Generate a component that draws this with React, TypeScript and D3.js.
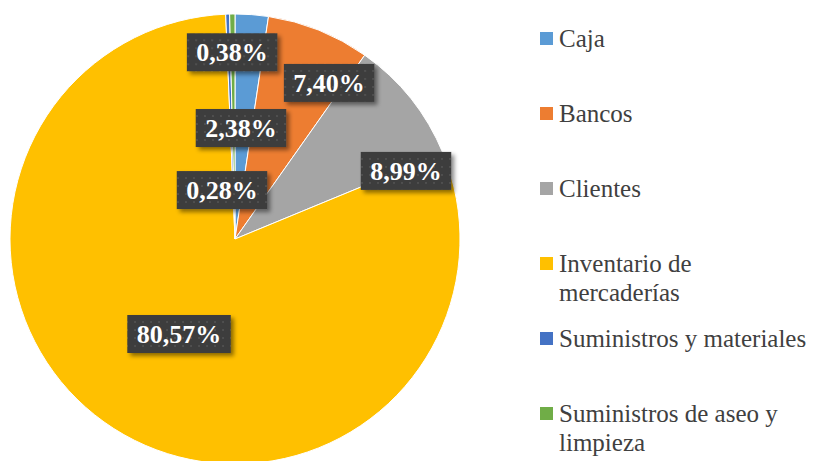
import React from "react";
import * as d3 from "d3";

const categories = [
  "Caja",
  "Bancos",
  "Clientes",
  "Inventario de mercaderías",
  "Suministros y materiales",
  "Suministros de aseo y limpieza",
];
const values = [2.38, 7.4, 8.99, 80.57, 0.28, 0.38];
const labels = ["2,38%", "7,40%", "8,99%", "80,57%", "0,28%", "0,38%"];
const colors = ["#5B9BD5", "#ED7D31", "#A5A5A5", "#FFC000", "#4472C4", "#70AD47"];
const legendLines = [
  ["Caja"],
  ["Bancos"],
  ["Clientes"],
  ["Inventario de", "mercaderías"],
  ["Suministros y materiales"],
  ["Suministros de aseo y", "limpieza"],
];
// label placement: radius fraction and angular shift (deg) from slice mid-angle
const labelRadius = [0.494, 0.81, 0.818, 0.49, 0.225, 0.83];
const labelShift = [-1.2, 9.2, 16.9, -2.1, -13, -0.2];

const W = 825;
const H = 461;
const FONT = "serif";
const charW: Record<string, number> = { ",": 0.25, "%": 1.0 };

function labelWidth(text: string, size: number): number {
  let w = 0;
  for (const ch of text) w += charW[ch] ?? 0.5;
  return w * size;
}

export default function App() {
  const cx = 235;
  const cy = 239;
  const R = 225;
  const pie = d3.pie<number>().sort(null).value((d) => d);
  const arcs = pie(values);
  const arc = d3.arc<d3.PieArcDatum<number>>().innerRadius(0).outerRadius(R);

  const y0 = 47;
  const step = 75;

  return (
    <svg
      width={W}
      height={H}
      aria-label={categories.join(", ")}
      fontFamily={FONT}
      style={{ position: "absolute", left: 0, top: 0, background: "#fff", display: "block", fontFamily: FONT }}
    >
      <defs>
        <pattern id="dots" width={8} height={8} patternUnits="userSpaceOnUse">
          <rect width={8} height={8} fill="#3d3d3d" />
          <rect x={3} y={3} width={2} height={2} fill="#4f4f4f" />
        </pattern>
        <filter id="shadow" x="-20%" y="-30%" width="150%" height="180%">
          <feDropShadow dx={3} dy={3} stdDeviation={2} floodColor="#000" floodOpacity={0.45} />
        </filter>
      </defs>
      <g transform={`translate(${cx},${cy})`}>
        {arcs.map((a, i) => (
          <path key={"s" + i} d={arc(a) || ""} fill={colors[i]} stroke="#fff" strokeWidth={1} />
        ))}
        {arcs.map((a, i) => {
          const mid = (a.startAngle + a.endAngle) / 2 + (labelShift[i] * Math.PI) / 180;
          const r = R * labelRadius[i];
          const x = r * Math.sin(mid);
          const y = -r * Math.cos(mid);
          const tw = labelWidth(labels[i], 26);
          const bw = tw + 19;
          const bh = 38;
          return (
            <g key={"l" + i} transform={`translate(${x},${y})`}>
              <rect x={-bw / 2} y={-bh / 2} width={bw} height={bh} fill="url(#dots)" filter="url(#shadow)" />
              <text
                x={0}
                y={9}
                textAnchor="middle"
                fill="#fff"
                fontFamily={FONT}
                fontWeight="bold"
                fontSize={26}
                style={{ fontFamily: FONT }}
              >
                {labels[i]}
              </text>
            </g>
          );
        })}
      </g>
      <g>
        {legendLines.map((lines, i) => {
          const by = y0 + i * step;
          return (
            <g key={"lg" + i}>
              <rect x={540} y={by - 15} width={13} height={13} fill={colors[i]} />
              {lines.map((ln, j) => (
                <text
                  key={j}
                  x={559}
                  y={by + j * 29}
                  fill="#404040"
                  fontFamily={FONT}
                  fontSize={25}
                  style={{ fontFamily: FONT }}
                >
                  {ln}
                </text>
              ))}
            </g>
          );
        })}
      </g>
    </svg>
  );
}
